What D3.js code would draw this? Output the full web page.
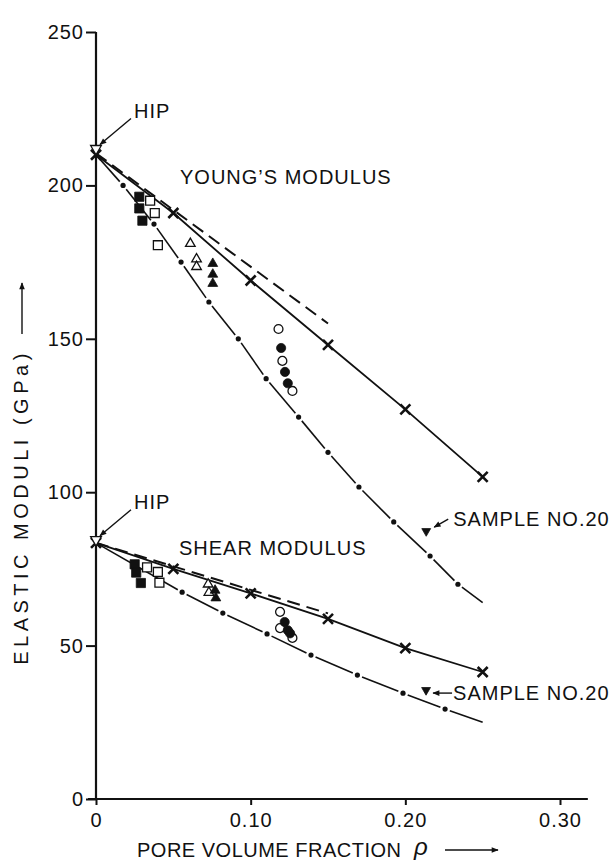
<!DOCTYPE html>
<html>
<head>
<meta charset="utf-8">
<script src="https://cdn.jsdelivr.net/npm/d3@7"></script>
<style>
  body { margin: 0; background: #fff; }
  svg text { font-family: "Liberation Sans", Arial, Helvetica, sans-serif; fill: #111; }
</style>
</head>
<body>
<svg id="chart" width="613" height="863"></svg>
<script>
// axis ticks
const xTicks = [0, 0.10, 0.20, 0.30];
const yTicks = [0, 50, 100, 150, 200, 250];

// solid lines with x markers  [porosity, GPa]
const youngCross = [[0, 210], [0.05, 191], [0.10, 169], [0.15, 148], [0.20, 127], [0.25, 105]];
const shearCross = [[0, 83.5], [0.05, 75], [0.10, 67], [0.15, 58.7], [0.20, 49.2], [0.25, 41.4]];

// dashed lines
const youngDashed = [[0, 210.5], [0.15, 155]];
const shearDashed = [[0, 83.5], [0.15, 60.5]];

// dash-dot curves (first and last point carry no dot)
const youngDots = [[0, 210], [0.0175, 200], [0.0375, 187.4], [0.055, 175], [0.073, 162], [0.092, 150],
  [0.11, 137], [0.131, 124.5], [0.15, 113], [0.17, 101.7], [0.1925, 90.3], [0.216, 79.2], [0.234, 70], [0.25, 64]];
const shearDots = [[0, 83.5], [0.0557, 67.4], [0.082, 60.6], [0.1106, 53.8], [0.139, 46.9],
  [0.169, 40.4], [0.1985, 34.5], [0.2257, 29.3], [0.25, 25]];

// measured samples
const youngFilledSq = [[0.028, 196.3], [0.028, 192.5], [0.030, 188.5]];
const youngOpenSq = [[0.035, 195], [0.038, 191], [0.040, 180.5]];
const youngOpenTri = [[0.061, 181], [0.065, 176], [0.065, 173.5]];
const youngFilledTri = [[0.0755, 174.5], [0.0755, 171], [0.0755, 168]];
const youngOpenCirc = [[0.118, 153.2], [0.1205, 142.8], [0.127, 133]];
const youngFilledCirc = [[0.1197, 147], [0.1222, 139.2], [0.124, 135.5]];

const shearFilledSq = [[0.025, 76.5], [0.026, 73.8], [0.029, 70.4]];
const shearOpenSq = [[0.033, 75.5], [0.040, 74], [0.041, 70.5]];
const shearOpenTri = [[0.0725, 70], [0.073, 67.3]];
const shearFilledTri = [[0.077, 68], [0.0775, 65.5]];
const shearOpenCirc = [[0.119, 61], [0.119, 55.7], [0.127, 52.5]];
const shearFilledCirc = [[0.122, 57.7], [0.124, 55], [0.1255, 54]];

const hipPoints = [[0, 212], [0, 84.5]];
const sample20 = [[0.2135, 87.3], [0.2134, 35.5]];

const svg = d3.select("#chart");

const x = d3.scaleLinear().domain([0, 0.30]).range([96, 560]);
const y = d3.scaleLinear().domain([0, 250]).range([799, 32]);

svg.append("defs").append("marker")
    .attr("id", "head")
    .attr("viewBox", "0 0 10 10")
    .attr("refX", 9).attr("refY", 5)
    .attr("markerUnits", "userSpaceOnUse")
    .attr("markerWidth", 9).attr("markerHeight", 7)
    .attr("orient", "auto")
  .append("path")
    .attr("d", "M0,1L10,5L0,9Z")
    .attr("fill", "#111");

// axes
const yAxis = svg.append("g")
    .attr("transform", `translate(${x(0)},0)`)
    .call(d3.axisLeft(y).tickValues(yTicks).tickSize(10).tickPadding(2));
const xAxis = svg.append("g")
    .attr("transform", `translate(0,${y(0)})`)
    .call(d3.axisBottom(x).tickValues(xTicks).tickSize(6).tickPadding(8)
      .tickFormat(d => d === 0 ? "0" : d3.format(".2f")(d)));

[yAxis, xAxis].forEach(g => {
  g.select(".domain").remove();
  g.selectAll("line").attr("stroke", "#111").attr("stroke-width", 2);
  g.selectAll("text").attr("font-size", 20).attr("letter-spacing", 1).attr("fill", "#111");
});

svg.append("line")
    .attr("x1", x(0)).attr("x2", x(0))
    .attr("y1", y(0)).attr("y2", y(250))
    .attr("stroke", "#111").attr("stroke-width", 2.2);
svg.append("line")
    .attr("x1", x(0) - 8).attr("x2", x(0.318))
    .attr("y1", y(0)).attr("y2", y(0))
    .attr("stroke", "#111").attr("stroke-width", 2.2);

const line = d3.line().x(d => x(d[0])).y(d => y(d[1]));

// solid lines
[youngCross, shearCross].forEach(s => {
  svg.append("path").datum(s)
      .attr("d", line).attr("fill", "none")
      .attr("stroke", "#111").attr("stroke-width", 1.8);
});

// dashed
[youngDashed, shearDashed].forEach(s => {
  svg.append("path").datum(s)
      .attr("d", line).attr("fill", "none")
      .attr("stroke", "#111").attr("stroke-width", 2)
      .attr("stroke-dasharray", "13,7");
});

// dash-dot: segments between dots with small gaps
function dashDot(pts) {
  const gap = 5;
  for (let i = 0; i < pts.length - 1; i++) {
    let ax = x(pts[i][0]), ay = y(pts[i][1]);
    let bx = x(pts[i + 1][0]), by = y(pts[i + 1][1]);
    const len = Math.hypot(bx - ax, by - ay);
    const ux = (bx - ax) / len, uy = (by - ay) / len;
    const g0 = i > 0 ? gap : 0;
    const g1 = i + 1 < pts.length - 1 ? gap : 0;
    svg.append("line")
        .attr("x1", ax + ux * g0).attr("y1", ay + uy * g0)
        .attr("x2", bx - ux * g1).attr("y2", by - uy * g1)
        .attr("stroke", "#111").attr("stroke-width", 1.6);
  }
  svg.append("g").selectAll("circle")
    .data(pts.slice(1, -1))
    .join("circle")
      .attr("cx", d => x(d[0])).attr("cy", d => y(d[1]))
      .attr("r", 2.6).attr("fill", "#111");
}
dashDot(youngDots);
dashDot(shearDots);

// x markers
[youngCross, shearCross].forEach(s => {
  svg.append("g").selectAll("path")
    .data(s)
    .join("path")
      .attr("d", d => {
        const cx = x(d[0]), cy = y(d[1]), r = 5;
        return `M${cx - r},${cy - r}L${cx + r},${cy + r}M${cx - r},${cy + r}L${cx + r},${cy - r}`;
      })
      .attr("stroke", "#111").attr("stroke-width", 2.6);
});

function symbols(data, type, size, filled, rotate) {
  svg.append("g").selectAll("path")
    .data(data)
    .join("path")
      .attr("transform", d => `translate(${x(d[0])},${y(d[1])})${rotate ? " rotate(180)" : ""}`)
      .attr("d", d3.symbol(type, size))
      .attr("fill", filled ? "#111" : "#fff")
      .attr("stroke", "#111").attr("stroke-width", filled ? 0.8 : 1.3);
}

symbols(youngOpenSq, d3.symbolSquare, 80, false);
symbols(shearOpenSq, d3.symbolSquare, 80, false);
symbols(youngFilledSq, d3.symbolSquare, 85, true);
symbols(shearFilledSq, d3.symbolSquare, 85, true);
symbols(youngOpenTri, d3.symbolTriangle, 40, false);
symbols(shearOpenTri, d3.symbolTriangle, 40, false);
symbols(youngFilledTri, d3.symbolTriangle, 42, true);
symbols(shearFilledTri, d3.symbolTriangle, 42, true);
symbols(youngOpenCirc, d3.symbolCircle, 62, false);
symbols(shearOpenCirc, d3.symbolCircle, 62, false);
symbols(youngFilledCirc, d3.symbolCircle, 66, true);
symbols(shearFilledCirc, d3.symbolCircle, 66, true);
symbols(hipPoints, d3.symbolTriangle, 50, false, true);
symbols(sample20, d3.symbolTriangle, 34, true, true);

// annotations
function label(txt, tx, ty) {
  svg.append("text")
      .attr("x", tx).attr("y", ty)
      .attr("font-size", 20).attr("letter-spacing", 1)
      .text(txt);
}
function arrow(x1, y1, x2, y2) {
  svg.append("line")
      .attr("x1", x1).attr("y1", y1).attr("x2", x2).attr("y2", y2)
      .attr("stroke", "#111").attr("stroke-width", 1.4)
      .attr("marker-end", "url(#head)");
}

label("YOUNG\u2019S MODULUS", 180, 184);
label("SHEAR MODULUS", 179, 555);

hipPoints.forEach(d => {
  const px = x(d[0]), py = y(d[1]);
  label("HIP", px + 38, py - 31);
  arrow(px + 35, py - 30, px + 4, py - 4);
});

sample20.forEach((d, i) => {
  const px = x(d[0]), py = y(d[1]);
  if (i === 0) {
    label("SAMPLE NO.20", px + 27, py - 5);
    arrow(px + 22, py - 12, px + 8, py - 4);
  } else {
    label("SAMPLE NO.20", px + 27, py + 10);
    arrow(px + 26, py + 3, px + 7, py + 3);
  }
});

// axis titles
svg.append("text")
    .attr("transform", "translate(28,507) rotate(-90)")
    .attr("text-anchor", "middle")
    .attr("font-size", 20).attr("letter-spacing", 4.5)
    .text("ELASTIC MODULI (GPa)");
svg.append("line")
    .attr("x1", 22).attr("y1", 334).attr("x2", 22).attr("y2", 283)
    .attr("stroke", "#111").attr("stroke-width", 1.4)
    .attr("marker-end", "url(#head)");

svg.append("text")
    .attr("x", 137).attr("y", 857)
    .attr("font-size", 20).attr("letter-spacing", 0.5)
    .text("PORE VOLUME FRACTION");
svg.append("text")
    .attr("x", 414).attr("y", 855)
    .attr("font-size", 24).attr("font-style", "italic")
    .text("\u03c1");
svg.append("line")
    .attr("x1", 445).attr("y1", 850).attr("x2", 498).attr("y2", 850)
    .attr("stroke", "#111").attr("stroke-width", 1.4)
    .attr("marker-end", "url(#head)");
</script>
</body>
</html>
